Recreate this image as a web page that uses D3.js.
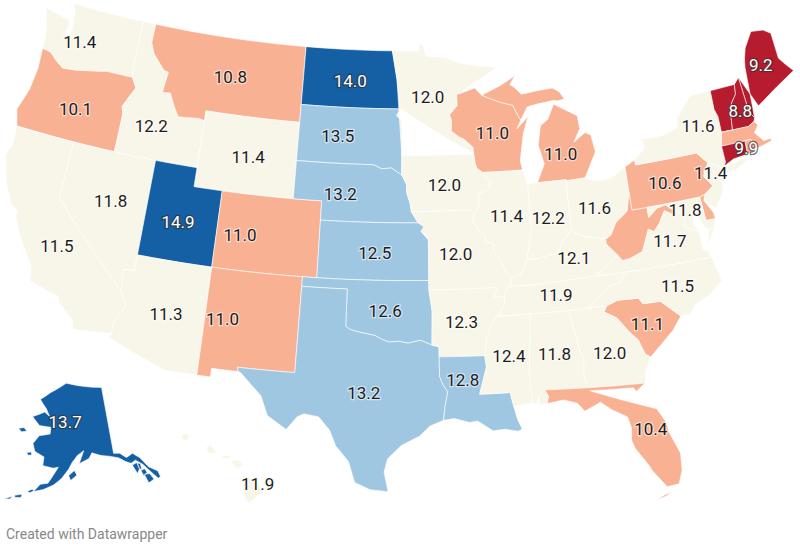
<!DOCTYPE html>
<html>
<head>
<meta charset="utf-8">
<script src="https://d3js.org/d3.v7.min.js"></script>
<style>
  html, body { margin: 0; background: #fff; }
  text { font-family: Roboto, sans-serif; }
</style>
</head>
<body>
<svg id="map" width="800" height="550"></svg>
<script>
// values per state
var stateNames = ["WA","OR","CA","NV","ID","MT","WY","UT","AZ","CO","NM","ND","SD","NE","KS","OK","TX","MN","IA","MO","AR","LA","WI","IL","MI","IN","OH","KY","TN","MS","AL","GA","FL","SC","NC","VA","WV","PA","NY","ME","VT","NH","MA","RI","CT","NJ","DE","MD","AK","HI"];
var stateValues = [11.4,10.1,11.5,11.8,12.2,10.8,11.4,14.9,11.3,11.0,11.0,14.0,13.5,13.2,12.5,12.6,13.2,12.0,12.0,12.0,12.3,12.8,11.0,11.4,11.0,12.2,11.6,12.1,11.9,12.4,11.8,12.0,10.4,11.1,11.5,11.7,10.9,10.6,11.6,9.2,9.0,8.8,10.5,10.7,9.9,11.4,10.8,11.8,13.7,11.9];
// these have no room for a label in the original
var hiddenLabels = ["WV","VT","MA","RI","DE"];
var binLimits = [10, 11.2, 12.45, 13.6];
var binColors = ["#b71c2e", "#f8b193", "#f8f6e9", "#9fc7e2", "#1560a5"];

// shared borders, lon/lat
var stCroix = [[-92.0,46.7],[-92.3,46.66],[-92.29,46.07],[-92.88,45.6],[-92.75,45.3],[-92.8,44.75],[-92.3,44.45],[-91.9,44.3],[-91.25,43.85],[-91.22,43.5]];
var missIaWi = [[-91.22,43.5],[-91.15,43.0],[-91.05,42.75],[-90.64,42.51]];
var missIaIl = [[-90.64,42.51],[-90.15,41.95],[-90.2,41.8],[-90.34,41.6],[-91.05,41.4],[-90.95,41.1],[-91.1,40.7],[-91.42,40.38]];
var missMoIl = [[-91.42,40.38],[-91.5,40.0],[-91.1,39.5],[-90.73,39.25],[-90.65,38.9],[-90.2,38.8],[-90.2,38.4],[-89.9,38.0],[-89.5,37.3],[-89.13,36.98]];
var missMoKy = [[-89.13,36.98],[-89.2,36.6],[-89.42,36.5]];
var missMoTn = [[-89.42,36.5],[-89.7,36.0]];
var missTnAr = [[-89.7,36.0],[-89.7,35.6],[-90.1,35.1],[-90.3,35.0]];
var missMsAr = [[-90.3,35.0],[-90.6,34.6],[-91.0,33.9],[-91.17,33.0]];
var missMsLa = [[-91.17,33.0],[-91.1,32.4],[-91.6,31.0]];
var ohioIlKy = [[-89.13,36.98],[-88.5,37.1],[-88.03,37.8]];
var ohioInKy = [[-88.03,37.8],[-87.1,37.85],[-86.5,37.95],[-85.9,38.0],[-85.4,38.7],[-84.82,39.1]];
var ohioOhKy = [[-84.82,39.1],[-84.3,38.8],[-83.7,38.65],[-82.6,38.42]];
var ohioOhWv = [[-82.6,38.42],[-82.2,38.6],[-81.75,39.2],[-80.87,39.7],[-80.52,40.64]];
var bigSandy = [[-82.6,38.42],[-82.6,38.17],[-81.97,37.54]];
var kyVa = [[-81.97,37.54],[-82.7,37.05],[-83.68,36.6]];
var vaWv = [[-81.97,37.54],[-81.68,37.2],[-81.2,37.25],[-80.3,37.5],[-80.0,38.0],[-79.65,38.6],[-79.3,38.42],[-78.87,38.77],[-78.35,39.4],[-77.83,39.13],[-77.72,39.32]];
var potomac = [[-77.72,39.32],[-77.45,39.2],[-77.04,38.8],[-77.25,38.4],[-76.95,38.25],[-76.3,37.95]];
var ncTn = [[-81.68,36.59],[-82.0,36.1],[-82.9,35.95],[-83.5,35.57],[-84.32,34.99]];
var ncSc = [[-83.11,35.0],[-82.4,35.2],[-81.04,35.15],[-80.8,34.82],[-79.67,34.8],[-78.55,33.86]];
var scGa = [[-80.85,32.03],[-81.15,32.2],[-81.45,33.0],[-81.95,33.5],[-82.6,34.3],[-83.35,34.7],[-83.11,35.0]];
var gaAl = [[-84.86,30.71],[-85.0,31.0],[-85.1,31.55],[-85.0,32.3],[-85.18,32.87],[-85.6,34.98]];
var gaFl = [[-81.45,30.72],[-82.05,30.36],[-82.2,30.57],[-84.86,30.71]];
var alMs = [[-88.2,35.0],[-88.1,34.9],[-88.47,31.9],[-88.4,30.37]];
var perdido = [[-87.6,31.0],[-87.4,30.65],[-87.52,30.28]];
var sabine = [[-94.04,33.02],[-94.04,32.0],[-93.8,31.5],[-93.55,31.2],[-93.75,30.4],[-93.85,29.7]];
var redRiver = [[-94.48,33.64],[-95.2,33.9],[-96.0,33.75],[-96.6,33.85],[-97.2,33.8],[-97.7,33.95],[-98.1,34.13],[-99.2,34.3],[-99.7,34.4],[-100.0,34.56]];
var moRiverKs = [[-95.3,40.0],[-94.9,39.8],[-95.1,39.55],[-94.61,39.11]];
var moRiverNe = [[-95.77,40.58],[-95.3,40.0]];
var moRiverIa = [[-96.45,42.49],[-96.1,42.0],[-96.1,41.6],[-95.85,41.0],[-95.77,40.58]];
var sdMn = [[-96.45,43.5],[-96.45,45.3],[-96.85,45.6],[-96.56,45.94]];
var redNorth = [[-96.56,45.94],[-96.85,47.5],[-97.23,49.0]];
var sdNe = [[-96.45,42.49],[-97.2,42.85],[-97.9,42.8],[-98.5,43.0],[-104.05,43.0]];
var wiUp = [[-90.4,46.55],[-89.1,46.13],[-88.1,45.9],[-87.8,45.35],[-87.6,45.1]];
var idMt = [[-116.05,49.0],[-116.05,48.0],[-115.7,47.45],[-114.7,46.7],[-114.35,46.65],[-114.5,45.55],[-113.9,45.6],[-113.45,44.95],[-113.0,44.45],[-111.5,44.55],[-111.05,44.48]];
var orId = [[-116.92,46.0],[-116.5,45.5],[-116.9,44.9],[-117.2,44.4],[-117.03,44.0],[-117.03,42.0]];
var waOr = [[-124.05,46.27],[-123.4,46.2],[-122.8,45.85],[-122.2,45.57],[-121.2,45.65],[-119.3,45.93],[-118.98,46.0],[-116.92,46.0]];
var caAz = [[-114.63,35.0],[-114.15,34.3],[-114.7,33.4],[-114.72,32.72]];
var delawareRiver = [[-74.7,41.36],[-75.1,40.95],[-75.2,40.7],[-74.72,40.15],[-75.4,39.8]];
var vtNh = [[-71.5,45.01],[-71.6,44.5],[-72.05,44.1],[-72.3,43.6],[-72.46,42.73]];
var nhMe = [[-71.08,45.3],[-70.98,43.4],[-70.7,43.07]];
var nyVt = [[-73.35,45.0],[-73.4,44.0],[-73.25,43.6],[-73.27,42.75]];
var northMa = [[-73.27,42.75],[-72.46,42.73],[-71.3,42.7],[-70.82,42.87]];
var riMa = [[-71.12,41.5],[-71.38,42.02],[-71.8,42.02]];
var mdWvNorth = [[-79.48,39.72],[-79.48,39.2],[-78.8,39.6],[-78.2,39.68],[-77.72,39.32]];

function rev(line) { return line.slice().reverse(); }
function join() { return [].concat.apply([], arguments); }

var stateRings = {
  WA: [join([[-117.03,49.0],[-122.75,49.0],[-122.5,48.75],[-122.3,47.9],[-122.35,47.4],[-122.8,47.2],[-122.6,47.9],[-122.75,48.15],[-123.2,48.15],[-124.7,48.38],[-124.3,47.5],[-124.1,46.9]], waOr, [[-117.04,46.4]])],
  OR: [join(waOr, orId, [[-124.2,42.0],[-124.55,42.85],[-124.1,44.0],[-123.95,45.2]])],
  CA: [join([[-124.2,42.0],[-120.0,42.0],[-120.0,39.0]], caAz, [[-117.12,32.53],[-117.3,33.0],[-118.4,33.75],[-118.5,34.03],[-119.2,34.15],[-120.5,34.45],[-120.65,35.15],[-121.9,36.6],[-122.5,37.5],[-122.5,37.8],[-123.0,38.0],[-123.75,39.0],[-124.35,40.4],[-124.1,41.0]])],
  NV: [[[-120.0,42.0],[-114.04,42.0],[-114.04,36.2],[-114.75,36.1],[-114.63,35.0],[-120.0,39.0]]],
  ID: [join(idMt, [[-111.05,42.0]], rev(orId), [[-117.04,46.4],[-117.03,49.0]])],
  MT: [join(idMt, [[-111.05,45.0],[-104.05,45.0],[-104.05,49.0]])],
  WY: [[[-111.05,45.0],[-104.05,45.0],[-104.05,41.0],[-111.05,41.0]]],
  UT: [[[-114.04,42.0],[-111.05,42.0],[-111.05,41.0],[-109.05,41.0],[-109.05,37.0],[-114.04,37.0]]],
  AZ: [join([[-114.04,37.0],[-109.05,37.0],[-109.05,31.33],[-111.07,31.33],[-114.8,32.5]], rev(caAz), [[-114.75,36.1],[-114.04,36.2]])],
  CO: [[[-109.05,41.0],[-102.05,41.0],[-102.05,37.0],[-109.05,37.0]]],
  NM: [[[-109.05,37.0],[-103.0,37.0],[-103.04,32.0],[-106.62,32.0],[-106.53,31.78],[-108.2,31.78],[-108.2,31.33],[-109.05,31.33]]],
  ND: [join([[-104.05,49.0]], rev(redNorth), [[-104.05,45.94]])],
  SD: [join([[-104.05,45.94]], rev(sdMn), [[-96.45,42.49]], sdNe)],
  NE: [join(rev(sdNe), moRiverIa, moRiverNe, [[-102.05,40.0],[-102.05,41.0],[-104.05,41.0]])],
  KS: [join(moRiverKs, [[-94.62,37.0],[-102.05,37.0],[-102.05,40.0]])],
  OK: [join(redRiver, [[-100.0,36.5],[-103.0,36.5],[-103.0,37.0],[-94.62,37.0],[-94.62,36.5],[-94.43,35.39]])],
  TX: [join([[-94.04,33.55]], redRiver, [[-100.0,36.5],[-103.0,36.5],[-103.04,32.0],[-106.62,32.0],[-106.53,31.78],[-106.4,31.75],[-105.0,30.65],[-104.5,29.65],[-103.3,29.0],[-102.7,29.7],[-102.3,29.88],[-101.4,29.77],[-100.7,29.1],[-100.3,28.3],[-99.5,27.5],[-99.1,26.4],[-98.2,26.05],[-97.15,25.96],[-97.4,27.0],[-97.2,27.7],[-96.4,28.4],[-95.3,28.9],[-94.7,29.4]], rev(sabine))],
  MN: [join([[-97.23,49.0],[-95.15,49.0],[-95.15,49.38],[-94.8,49.3],[-94.6,48.72],[-93.0,48.6],[-92.0,48.3],[-90.8,48.15],[-89.1,47.95],[-91.5,47.0]], stCroix, rev(sdMn), redNorth.slice(1, 2))],
  IA: [join(rev(moRiverIa), [[-96.45,43.5]], missIaWi, missIaIl, [[-91.73,40.61]])],
  MO: [join([[-91.73,40.61]], missMoIl, missMoKy, missMoTn, [[-90.37,36.0],[-90.15,36.5],[-94.62,36.5],[-94.62,37.0]], rev(moRiverKs), rev(moRiverNe))],
  AR: [join([[-94.62,36.5],[-90.15,36.5],[-90.37,36.0]], missTnAr, missMsAr, [[-94.04,33.02],[-94.04,33.55],[-94.48,33.64],[-94.43,35.39]])],
  LA: [join(sabine, [[-93.2,29.78],[-92.3,29.55],[-91.8,29.6],[-91.3,29.3],[-90.9,29.05],[-90.2,29.1],[-89.4,28.95],[-89.15,29.05],[-89.4,29.6],[-89.5,30.0],[-89.55,30.2],[-89.73,31.0]], rev(missMsLa))],
  WI: [join(stCroix.slice(0,1), [[-90.9,46.95]], wiUp, [[-87.95,44.65],[-87.05,45.25],[-87.5,44.4],[-87.9,43.0],[-87.8,42.49]], rev(missIaWi), rev(stCroix))],
  IL: [join(missIaIl.slice(0,1), [[-87.8,42.49],[-87.52,41.7],[-87.53,39.35],[-87.65,39.0]], rev(ohioIlKy), rev(missMoIl), rev(missIaIl))],
  MI: [join(wiUp, [[-87.05,45.75],[-86.3,45.85],[-85.0,45.95],[-84.75,45.9],[-84.2,45.95],[-84.5,46.35],[-85.0,46.6],[-86.1,46.55],[-87.4,46.45],[-87.9,46.85],[-88.2,47.0],[-87.75,47.45],[-88.9,47.0]]),
       [[-86.82,41.76],[-84.8,41.76],[-84.8,41.7],[-83.45,41.73],[-83.15,42.1],[-82.45,43.0],[-82.6,43.9],[-83.0,44.07],[-83.9,43.65],[-83.35,44.3],[-83.4,45.0],[-85.05,45.75],[-85.6,45.0],[-86.2,44.7],[-86.5,43.7],[-86.2,42.7]]],
  IN: [join([[-87.52,41.7],[-87.2,41.76],[-86.82,41.76],[-84.8,41.76]], rev(ohioInKy), [[-87.65,39.0],[-87.53,39.35]])],
  OH: [join([[-84.8,41.7],[-83.45,41.73],[-82.7,41.5],[-81.7,41.5],[-80.52,41.98]], rev(ohioOhWv), rev(ohioOhKy), [[-84.8,41.76]])],
  KY: [join(ohioIlKy, ohioInKy, ohioOhKy, bigSandy, kyVa, [[-88.05,36.5],[-89.42,36.5]], rev(missMoKy))],
  TN: [join([[-89.42,36.5],[-88.05,36.5],[-83.68,36.6],[-81.68,36.59]], ncTn, [[-88.2,35.0]], rev(missTnAr), rev(missMoTn))],
  MS: [join(missMsAr, missMsLa, [[-89.73,31.0],[-89.55,30.2],[-89.3,30.3]], rev(alMs))],
  AL: [join(alMs.slice(0,1), [[-85.6,34.98]], rev(gaAl), [[-87.6,31.0]], perdido, [[-88.0,30.25],[-88.0,30.65],[-88.13,30.32]], rev(alMs))],
  GA: [join([[-85.6,34.98],[-84.32,34.99]], rev(scGa), [[-81.3,31.3]], gaFl, gaAl)],
  FL: [join(rev(gaFl), [[-87.6,31.0]], perdido, [[-86.5,30.38],[-85.7,30.13],[-85.3,29.68],[-84.3,30.05],[-83.7,29.6],[-82.8,29.1],[-82.65,28.5],[-82.75,27.85],[-82.6,27.4],[-82.0,26.5],[-81.8,26.1],[-81.1,25.15],[-80.4,25.2],[-80.1,25.9],[-80.03,26.8],[-80.5,28.0],[-80.55,28.5],[-81.0,29.3]]),
       [[-81.8,24.55],[-81.3,24.65],[-80.8,24.85],[-81.3,24.75]]],
  SC: [join(ncSc, [[-79.2,33.2],[-79.9,32.7]], scGa)],
  NC: [join([[-75.87,36.55],[-81.68,36.59]], ncTn, [[-83.11,35.0]], ncSc, [[-77.95,33.85],[-77.5,34.3],[-76.5,34.65],[-75.5,35.25]])],
  VA: [join(vaWv, potomac, [[-76.3,37.5],[-76.3,37.0],[-76.0,36.92],[-75.87,36.55],[-81.68,36.59],[-83.68,36.6]], rev(kyVa)), [[-75.65,37.95],[-75.25,38.03],[-75.95,37.15]]],
  WV: [join([[-80.52,40.64],[-80.52,39.72]], mdWvNorth, rev(vaWv), rev(bigSandy), ohioOhWv)],
  PA: [join([[-80.52,41.98],[-79.76,42.27],[-79.76,42.0],[-75.35,42.0]], delawareRiver, [[-75.79,39.72],[-80.52,39.72],[-80.52,40.64]])],
  NY: [join([[-79.76,42.27],[-79.05,42.7],[-78.9,42.9],[-79.05,43.27],[-77.5,43.25],[-76.3,43.5],[-76.2,44.0],[-75.0,44.9],[-74.7,45.0]], nyVt, [[-73.5,42.05],[-73.49,41.2],[-73.65,41.0],[-73.9,40.8],[-73.9,41.0],[-74.7,41.36],[-75.35,42.0],[-79.76,42.0]]),
       [[-74.0,40.6],[-73.7,40.9],[-72.3,41.15],[-71.9,41.05],[-72.8,40.7]]],
  ME: [join(rev(nhMe), [[-70.2,43.6],[-69.0,44.1],[-68.5,44.3],[-67.0,44.85],[-67.45,45.3],[-67.8,45.7],[-67.8,47.07],[-68.3,47.35],[-69.23,47.46],[-70.0,46.7],[-70.25,46.2],[-70.4,45.75]])],
  VT: [join(nyVt, rev(northMa.slice(0,2)), rev(vtNh))],
  NH: [join(vtNh, [[-71.3,42.7],[-70.82,42.87]], rev(nhMe))],
  MA: [join([[-73.5,42.05]], northMa, [[-70.6,42.65],[-71.0,42.3],[-70.65,41.95],[-70.5,41.78],[-70.0,41.8],[-70.2,42.07],[-69.95,41.67],[-70.65,41.55]], riMa)],
  RI: [join(riMa, [[-71.86,41.32],[-71.5,41.37]])],
  CT: [[[-73.5,42.05],[-71.8,42.02],[-71.86,41.32],[-72.9,41.25],[-73.65,41.0],[-73.49,41.2]]],
  NJ: [join(delawareRiver, [[-75.55,39.5],[-74.9,38.95],[-74.1,39.75],[-74.0,40.4],[-74.25,40.5],[-74.0,40.7],[-73.9,41.0]])],
  DE: [[[-75.79,39.72],[-75.4,39.8],[-75.55,39.5],[-75.1,38.8],[-75.05,38.45],[-75.7,38.46]]],
  MD: [join([[-79.48,39.72],[-75.79,39.72],[-75.7,38.46],[-75.05,38.45],[-75.25,38.03],[-75.65,37.95],[-75.9,38.2],[-76.3,39.0],[-76.0,39.5],[-76.5,39.2],[-76.55,38.4]], rev(potomac), rev(mdWvNorth))],
  AK: [[[-141,70.3],[-141,60.3],[-139.2,60.15],[-137.5,59.3],[-135.5,59.7],[-133.8,58.8],[-132.2,57.1],[-130.2,56.1],[-130,55.2],[-130.7,55.0],[-132,56.3],[-133.5,57.7],[-135.2,58.6],[-136.6,58.3],[-138,58.75],[-139.9,59.55],[-142.5,60.0],[-145,60.3],[-147.5,60.8],[-148.5,60.0],[-151.5,59.3],[-150.0,61.2],[-152,60.5],[-153.5,59.5],[-154.5,58.5],[-156.5,57.0],[-158.5,56.0],[-161,55.2],[-163.5,54.7],[-162,55.9],[-160,56.2],[-157.5,58.7],[-159,58.5],[-162,58.7],[-162,60.0],[-165,60.6],[-166,61.7],[-164.5,63.0],[-161,63.5],[-161,64.5],[-165,64.5],[-168,65.6],[-164,66.6],[-162,66.1],[-163.5,67.1],[-166.5,68.35],[-163,69.6],[-156.5,71.3],[-152,71.0]],
       [[-154.5,57.5],[-152.9,58.3],[-152.2,57.6],[-153.9,56.8]],
       [[-171.7,63.4],[-170,63.7],[-168.8,63.3],[-170.5,63.0]],
       [[-167.4,60.2],[-166,60.4],[-165.7,60.0],[-166.7,59.85]],
       [[-165,54.6],[-163.9,55.0],[-163.4,54.8],[-164.4,54.4]],
       [[-168.0,53.6],[-166.2,54.0],[-166.3,53.5],[-167.8,53.3]],
       [[-170.2,52.7],[-168.5,53.4],[-168.9,52.9]],
       [[-136.4,58.0],[-135,58.2],[-134.7,57.2],[-135.6,56.6]],
       [[-134.9,58.1],[-134.1,57.9],[-134.2,57.0],[-134.8,57.2]],
       [[-134.5,56.9],[-133.4,57.0],[-133,56.4],[-134.1,56.0]],
       [[-133.9,56.2],[-132.5,56.1],[-131.8,55.1],[-133.4,54.8]]],
  HI: [[[-159.78,22.05],[-159.6,22.23],[-159.33,22.2],[-159.33,21.95],[-159.6,21.88]],
       [[-158.28,21.57],[-157.97,21.7],[-157.65,21.3],[-158.1,21.3]],
       [[-157.3,21.2],[-156.73,21.17],[-156.9,21.05],[-157.3,21.1]],
       [[-156.7,20.95],[-156.3,20.95],[-156.0,20.75],[-156.4,20.58],[-156.7,20.85]],
       [[-155.9,20.25],[-155.1,19.85],[-154.8,19.5],[-155.65,18.92],[-155.9,19.1],[-156.05,19.75]]]
};

// label offsets from the state centre, pixels
var labelNudge = {WA:[-14,1],OR:[0,5],CA:[-1,13],NV:[2,-2],ID:[-5,11],MT:[0,2],WY:[0,2],UT:[-2,5],AZ:[2,1],CO:[-28,0],NM:[-28,-3],
  ND:[0,2],SD:[-13,0],NE:[-14,2],KS:[2,2],OK:[0,3],TX:[9,7],MN:[-6,8],IA:[1,2],MO:[-5,1],AR:[-2,2],LA:[-12,-15],WI:[3,2],IL:[0,-2],
  MI:[8,20],OH:[-3,3],KY:[6,-4],TN:[-1,0],MS:[0,-3],AL:[0,-2],GA:[1,2],FL:[16,0],SC:[2,3],NC:[11,0],VA:[6,-6],PA:[-2,2],NY:[7,-10],
  ME:[-4,2],NH:[0,1],CT:[12,-3],NJ:[-3,-12],MD:[-3,-3],AK:[-11,-10],HI:[18,7]};

function conic(p0, p1, stretch) {
  var raw = d3.geoConicEqualAreaRaw(p0 * Math.PI / 180, p1 * Math.PI / 180);
  return d3.geoProjection(function(l, p) {
    var c = raw(l, p);
    return [c[0], c[1] * stretch];
  });
}
var main = conic(29.5, 45.5, 1).rotate([96, 0]).center([0, 37.5]).scale(1093).translate([408, 271]);
var alaska = conic(55, 65, 1).rotate([153, 0]).center([0, 64]).scale(385).translate([74, 432]);
var hawaii = conic(8, 18, 1.2).rotate([157, 0]).center([0, 20.5]).scale(1010).translate([227, 470]);

// long straight borders follow the parallel, so add points along them
function denser(ring) {
  var out = [];
  ring.forEach(function(a, i) {
    var b = ring[(i + 1) % ring.length];
    var n = Math.max(Math.ceil(Math.abs(b[0] - a[0])), 1);
    for (var j = 0; j < n; j++) {
      out.push([a[0] + (b[0] - a[0]) * j / n, a[1] + (b[1] - a[1]) * j / n]);
    }
  });
  out.push(out[0]);
  if (d3.geoArea({type: "Polygon", coordinates: [out]}) > 2 * Math.PI) out.reverse();
  return out;
}

var features = stateNames.map(function(name, i) {
  return {
    name: name,
    value: stateValues[i],
    geo: {type: "MultiPolygon", coordinates: stateRings[name].map(function(r) { return [denser(r)]; })}
  };
});

function projFor(d) {
  return d.name == "AK" ? alaska : d.name == "HI" ? hawaii : main;
}
function isDark(d) {
  return d.value < 10 || d.value > 13.6;
}

var color = d3.scaleThreshold().domain(binLimits).range(binColors);
var svg = d3.select("#map");

svg.selectAll("path.state")
  .data(features)
  .enter()
  .append("path")
  .attr("class", "state")
  .attr("d", function(d) { return d3.geoPath(projFor(d))(d.geo); })
  .attr("fill", function(d) { return color(d.value); })
  .attr("stroke", "#fff")
  .attr("stroke-width", 0.6)
  .attr("stroke-linejoin", "round");

svg.selectAll("text.label")
  .data(features.filter(function(d) { return hiddenLabels.indexOf(d.name) < 0; }))
  .enter()
  .append("text")
  .attr("class", "label")
  .attr("transform", function(d) {
    var xy = projFor(d)(d3.geoCentroid(d.geo));
    var n = labelNudge[d.name] || [0, 0];
    return "translate(" + (xy[0] + n[0]) + "," + (xy[1] + n[1]) + ")";
  })
  .attr("text-anchor", "middle")
  .attr("dy", "0.35em")
  .attr("font-size", 17)
  .attr("fill", function(d) { return isDark(d) ? "#fff" : "#1d1d1d"; })
  .attr("stroke", function(d) { return isDark(d) ? "#333" : "#fff"; })
  .attr("stroke-opacity", function(d) { return isDark(d) ? 0.7 : 0.55; })
  .attr("stroke-width", 2.5)
  .style("paint-order", "stroke")
  .text(function(d) { return d3.format(".1f")(d.value); });

svg.append("text")
  .attr("x", 6)
  .attr("y", 539)
  .attr("font-size", 14)
  .attr("fill", "#888")
  .text("Created with Datawrapper");
</script>
</body>
</html>
